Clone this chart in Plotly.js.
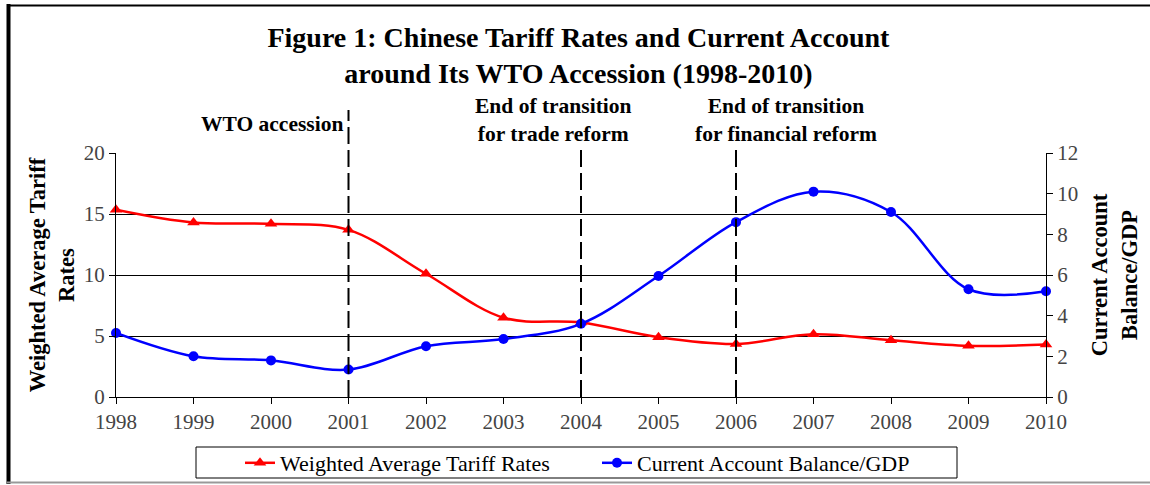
<!DOCTYPE html>
<html>
<head>
<meta charset="utf-8">
<script src="https://cdn.plot.ly/plotly-3.0.1.min.js"></script>
<style>
  html, body { margin: 0; padding: 0; background: #fff; }
  #chart { width: 1150px; height: 485px; }
</style>
</head>
<body>
<div id="chart"></div>
<script>
// ---- data ----
const years = [1998, 1999, 2000, 2001, 2002, 2003, 2004, 2005, 2006, 2007, 2008, 2009, 2010];
const tariffRates = [15.35, 14.3, 14.2, 13.7, 10.1, 6.5, 6.1, 4.9, 4.35, 5.15, 4.65, 4.2, 4.3];
const currentAccount = [3.15, 2.0, 1.8, 1.35, 2.5, 2.85, 3.6, 5.95, 8.6, 10.1, 9.1, 5.3, 5.2];
const eventYears = [2001, 2004, 2006];
const eventLabels = ["WTO accession", "End of transition<br>for trade reform", "End of transition<br>for financial reform"];
const titleText = "Figure 1: Chinese Tariff Rates and Current Account<br>around Its WTO Accession (1998-2010)";
const leftTitle = "Weighted Average Tariff<br>Rates";
const rightTitle = "Current Account<br>Balance/GDP";
const seriesNames = ["Weighted Average Tariff Rates", "Current Account Balance/GDP"];

// ---- geometry helpers (plot area in px) ----
const W = 1150, H = 485;
const M = { l: 116, r: 104, t: 153, b: 88 };
const pw = W - M.l - M.r, ph = H - M.t - M.b;
const px = x => (x - M.l) / pw;           // pixel x -> paper
const py = y => (H - M.b - y) / ph;       // pixel y -> paper

const serif = "Liberation Serif, Times New Roman, serif";

const traces = [
  {
    x: years, y: tariffRates, name: seriesNames[0], type: "scatter", mode: "lines+markers",
    line: { color: "#ff0000", width: 2.5, shape: "spline", smoothing: 1 },
    marker: { symbol: "triangle-up", size: 11, color: "#ff0000" },
    yaxis: "y", cliponaxis: false
  },
  {
    x: years, y: currentAccount, name: seriesNames[1], type: "scatter", mode: "lines+markers",
    line: { color: "#0000ff", width: 2.5, shape: "spline", smoothing: 1 },
    marker: { symbol: "circle", size: 10, color: "#0000ff" },
    yaxis: "y2", cliponaxis: false
  }
];

const shapes = [];
eventYears.forEach((yr, i) => {
  shapes.push({
    type: "line", xref: "x", yref: "paper", x0: yr, x1: yr, y0: 0,
    y1: i === 0 ? py(110) : py(147),
    line: { color: "#000", width: 2, dash: "17px,6px" }, layer: "above"
  });
});
// legend frame
shapes.push({ type: "rect", xref: "paper", yref: "paper", x0: px(196), x1: px(957), y0: py(447), y1: py(478),
  line: { color: "#000", width: 1 }, fillcolor: "rgba(0,0,0,0)" });
// outer frame
shapes.push({ type: "line", xref: "paper", yref: "paper", x0: px(8.5), x1: px(8.5), y0: py(4), y1: py(484),
  line: { color: "#000", width: 4 } });
shapes.push({ type: "line", xref: "paper", yref: "paper", x0: px(7), x1: px(1150), y0: py(5.5), y1: py(5.5),
  line: { color: "#000", width: 2 } });
shapes.push({ type: "line", xref: "paper", yref: "paper", x0: px(7), x1: px(1150), y0: py(482.5), y1: py(482.5),
  line: { color: "#999", width: 2 } });

const annFont = { family: serif, size: 21.5, color: "#000", weight: "bold" };
const annotations = [
  { xref: "paper", yref: "paper", x: px(345), y: py(124), xanchor: "right", yanchor: "middle",
    text: eventLabels[0], showarrow: false, font: annFont },
  { xref: "paper", yref: "paper", x: px(553), y: py(120), xanchor: "center", yanchor: "middle",
    text: eventLabels[1], showarrow: false, font: annFont },
  { xref: "paper", yref: "paper", x: px(786), y: py(120), xanchor: "center", yanchor: "middle",
    text: eventLabels[2], showarrow: false, font: annFont }
];

const tickFont = { family: serif, size: 21, color: "#444" };
const axTitleFont = { family: serif, size: 22.5, color: "#000", weight: "bold" };

const layout = {
  width: W, height: H,
  margin: M,
  paper_bgcolor: "#fff", plot_bgcolor: "#fff",
  title: {
    text: titleText, x: 0.503, xanchor: "center", y: 1 - 47 / H, yanchor: "middle", yref: "container",
    font: { family: serif, size: 28, color: "#000", weight: "bold" }
  },
  xaxis: {
    range: [1998, 2010], dtick: 1, tick0: 1998, showgrid: false, zeroline: false,
    showline: true, linecolor: "#000", linewidth: 1, ticks: "outside", ticklen: 6, tickcolor: "#000",
    tickfont: tickFont, automargin: false
  },
  yaxis: {
    range: [0, 20], dtick: 5, showgrid: true, gridcolor: "#000", gridwidth: 1, zeroline: false,
    showline: true, linecolor: "#000", linewidth: 1, ticks: "outside", ticklen: 6, tickcolor: "#000",
    tickfont: tickFont, automargin: false,
    title: { text: leftTitle, font: axTitleFont, standoff: 2 }
  },
  yaxis2: {
    range: [0, 12], dtick: 2, overlaying: "y", side: "right", showgrid: false, zeroline: false,
    showline: true, linecolor: "#000", linewidth: 1, ticks: "outside", ticklen: 6, tickcolor: "#000",
    tickfont: tickFont, automargin: false,
    title: { text: rightTitle, font: axTitleFont, standoff: 14 }
  },
  legend: {
    orientation: "h", xref: "container", yref: "container",
    x: 240 / W, xanchor: "left", y: 1 - 463 / H, yanchor: "middle",
    font: { family: serif, size: 22, color: "#000" }, bgcolor: "rgba(0,0,0,0)", borderwidth: 0,
    entrywidth: 312, entrywidthmode: "pixels", tracegroupgap: 0
  },
  showlegend: true,
  shapes: shapes,
  annotations: annotations
};

Plotly.newPlot("chart", traces, layout, { displayModeBar: false, staticPlot: true });
</script>
</body>
</html>
